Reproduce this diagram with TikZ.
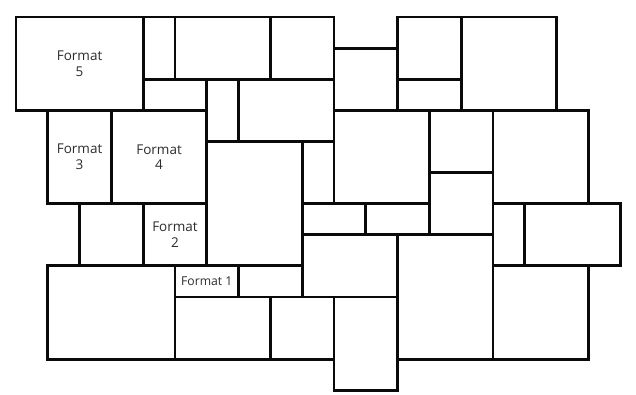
\documentclass[tikz,border=0pt]{standalone}
\usepackage{fontspec}
\setmainfont{Open Sans}
\usetikzlibrary{positioning}
\definecolor{tileink}{RGB}{10,10,10}
\definecolor{labelink}{RGB}{45,45,45}
\tikzset{
    tile/.style={draw=tileink, line width=2.8pt, line join=miter, fill=white},
    fmtlbl/.style={font=\fontsize{13.5}{15.5}\selectfont, text=labelink, align=center, inner sep=0pt},
    fmtsmall/.style={font=\fontsize{12.2}{14}\selectfont, text=labelink, align=center, inner sep=0pt}
}
\begin{document}
\begin{tikzpicture}[x=31.8pt, y=-31.1pt]
    \useasboundingbox (-0.503,-0.547) rectangle (19.497,12.122);
    % Tiles (grid units: left, top, right, bottom)
    \foreach \xa/\ya/\xb/\yb in {0/0/4/3, 4/0/5/2, 5/0/8/2, 8/0/10/2, 4/2/6/3, 6/2/7/4, 7/2/10/4,
            10/1/12/3, 12/0/14/2, 12/2/14/3, 14/0/17/3,
            1/3/3/6, 3/3/6/6, 6/4/9/8, 9/4/10/6, 10/3/13/6, 13/3/15/5, 13/5/15/7, 15/3/18/6,
            2/6/4/8, 4/6/6/8, 9/6/11/7, 11/6/13/7, 15/6/16/8, 16/6/19/8,
            1/8/5/11, 5/8/7/9, 7/8/9/9, 5/9/8/11, 8/9/10/11, 9/7/12/9, 12/7/15/11, 10/9/12/12, 15/8/18/11}
        \draw[tile] (\xa,\ya) rectangle (\xb,\yb);

    % Labels
    \node[fmtlbl] (fmt5) at (2,1.5) {Format\\5};
    \node[fmtlbl] (fmt3) at (2,4.5) {Format\\3};
    \node[fmtlbl] (fmt4) at (4.5,4.5) {Format\\4};
    \node[fmtlbl] (fmt2) at (5,7) {Format\\2};
    \node[fmtsmall] (fmt1) at (6,8.5) {Format 1};
\end{tikzpicture}
\end{document}
